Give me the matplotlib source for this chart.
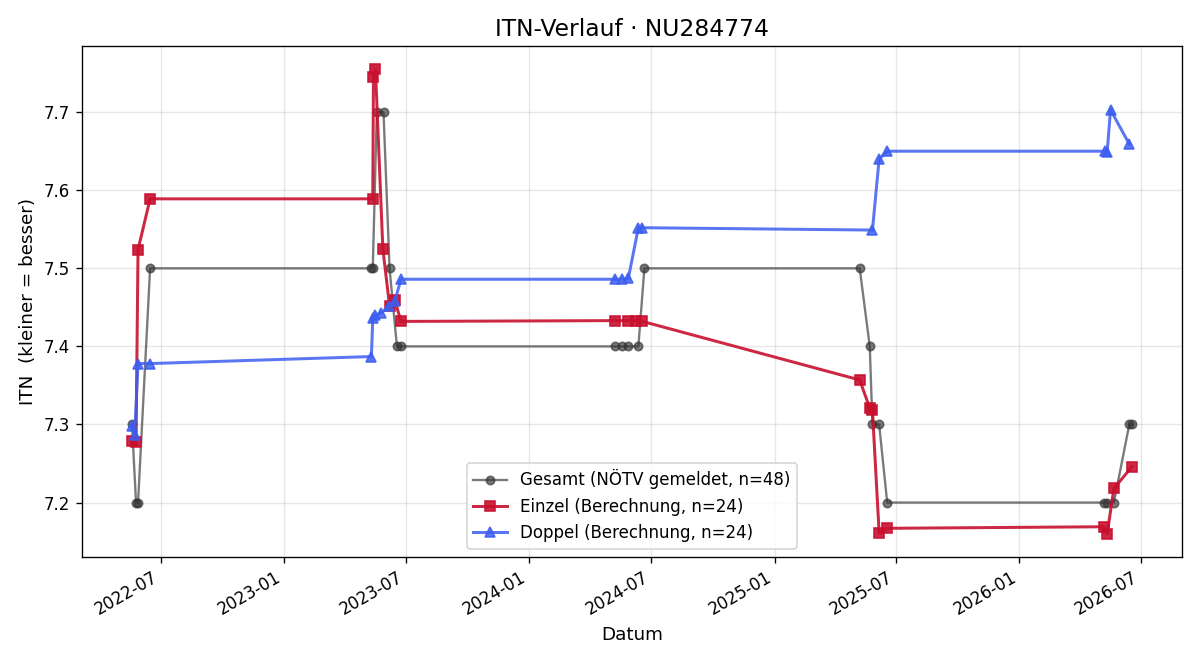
import matplotlib
matplotlib.use("Agg")
import matplotlib.pyplot as plt
import matplotlib.dates as mdates
import pandas as pd

gesamt_dates = ["2022-05-19", "2022-05-25", "2022-05-28", "2022-06-15",
                "2023-05-11", "2023-05-13", "2023-05-19", "2023-05-29", "2023-06-07", "2023-06-18", "2023-06-24",
                "2024-05-08", "2024-05-19", "2024-05-28", "2024-06-12", "2024-06-21",
                "2025-05-08", "2025-05-23", "2025-05-27", "2025-06-06", "2025-06-18",
                "2026-05-07", "2026-05-12", "2026-05-22", "2026-06-14", "2026-06-18"]
gesamt_vals = [7.3, 7.2, 7.2, 7.5,
               7.5, 7.5, 7.7, 7.7, 7.5, 7.4, 7.4,
               7.4, 7.4, 7.4, 7.4, 7.5,
               7.5, 7.4, 7.3, 7.3, 7.2,
               7.2, 7.2, 7.2, 7.3, 7.3]

einzel_dates = ["2022-05-19", "2022-05-25", "2022-05-28", "2022-06-15",
                "2023-05-13", "2023-05-14", "2023-05-17", "2023-05-28", "2023-06-07", "2023-06-15", "2023-06-24",
                "2024-05-08", "2024-05-28", "2024-06-09", "2024-06-18",
                "2025-05-08", "2025-05-23", "2025-05-27", "2025-06-06", "2025-06-18",
                "2026-05-07", "2026-05-12", "2026-05-22", "2026-06-18"]
einzel_vals = [7.279, 7.277, 7.524, 7.589,
               7.589, 7.745, 7.755, 7.525, 7.452, 7.459, 7.432,
               7.433, 7.433, 7.433, 7.432,
               7.357, 7.321, 7.318, 7.161, 7.167,
               7.169, 7.160, 7.218, 7.246]

doppel_dates = ["2022-05-19", "2022-05-23", "2022-05-28", "2022-06-15",
                "2023-05-11", "2023-05-13", "2023-05-17", "2023-05-26", "2023-06-06", "2023-06-15", "2023-06-24",
                "2024-05-08", "2024-05-19", "2024-05-28", "2024-06-12", "2024-06-18",
                "2025-05-27", "2025-06-06", "2025-06-18",
                "2026-05-09", "2026-05-12", "2026-05-17", "2026-06-14"]
doppel_vals = [7.298, 7.287, 7.378, 7.378,
               7.387, 7.437, 7.440, 7.443, 7.452, 7.458, 7.486,
               7.486, 7.486, 7.487, 7.552, 7.552,
               7.549, 7.640, 7.650,
               7.650, 7.649, 7.703, 7.659]

fig, ax = plt.subplots(figsize=(10, 5.5), dpi=120)
fig.subplots_adjust(left=82/1200, right=1182/1200, top=1-46/660, bottom=1-557/660)

ax.plot(pd.to_datetime(gesamt_dates), gesamt_vals, marker="o", color="#333333",
        alpha=0.65, linewidth=1.4, markersize=5, label="Gesamt (NÖTV gemeldet, n=48)")
ax.plot(pd.to_datetime(einzel_dates), einzel_vals, marker="s", color="#c8102e",
        alpha=0.9, linewidth=1.8, markersize=6, label="Einzel (Berechnung, n=24)")
ax.plot(pd.to_datetime(doppel_dates), doppel_vals, marker="^", color="#3d5ef0",
        alpha=0.85, linewidth=1.8, markersize=6, label="Doppel (Berechnung, n=24)")

ax.set_title("ITN-Verlauf · NU284774", fontsize=14)
ax.set_xlabel("Datum", fontsize=11)
ax.set_ylabel("ITN  (kleiner = besser)", fontsize=11)
ax.grid(True, alpha=0.3)
ax.xaxis.set_major_formatter(mdates.DateFormatter("%Y-%m"))
ax.legend(loc="lower center", fontsize=10)
for lbl in ax.get_xticklabels():
    lbl.set_rotation(30)
    lbl.set_ha("right")
fig.savefig("out.png", dpi=120)
